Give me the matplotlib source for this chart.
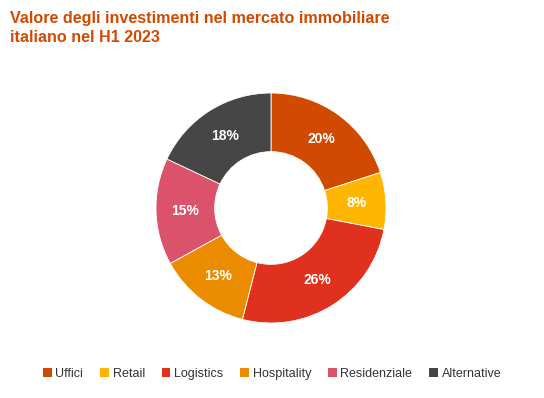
import matplotlib

matplotlib.use("Agg")
import matplotlib.pyplot as plt
from matplotlib.patches import Patch

plt.rcParams["font.family"] = ["Liberation Sans", "DejaVu Sans"]

CATEGORIES = ["Uffici", "Retail", "Logistics", "Hospitality", "Residenziale", "Alternative"]
SHARES = [20, 8, 26, 13, 15, 18]
COLORS = ["#D04A02", "#FFB600", "#E0301E", "#EB8C00", "#DB536A", "#464646"]
TITLE = "Valore degli investimenti nel mercato immobiliare\nitaliano nel H1 2023"

W, H = 544, 398
fig = plt.figure(figsize=(W / 100, H / 100), dpi=100)

# donut centred at (271, 208) px, outer radius ~115 px
cx, cy, r = 271, 208, 115
ax = fig.add_axes([(cx - r) / W, (H - cy - r) / H, 2 * r / W, 2 * r / H])
wedges, texts, autotexts = ax.pie(
    SHARES, colors=COLORS, startangle=90, counterclock=False, radius=1,
    wedgeprops=dict(width=0.51, edgecolor="white", linewidth=0.6),
    autopct=lambda p: f"{p:.0f}%", pctdistance=0.745,
    textprops=dict(color="white", fontsize=10, fontweight="bold"),
)
ax.set_xlim(-1, 1)
ax.set_ylim(-1, 1)
ax.set_aspect("equal")
ax.axis("off")

fig.text(10 / W, 1 - 11 / H, TITLE, ha="left", va="top", fontsize=11.6,
         fontweight="bold", color="#D04A02", linespacing=1.3)

handles = [Patch(facecolor=c, edgecolor="none", label=n) for c, n in zip(COLORS, CATEGORIES)]
fig.legend(handles=handles, loc="center", ncol=6, bbox_to_anchor=(0.5, 1 - 374 / H),
           frameon=False, fontsize=9, handlelength=0.7, handleheight=0.7,
           handletextpad=0.3, columnspacing=1.35, labelcolor="#333333")

fig.savefig("out.png", dpi=100)
